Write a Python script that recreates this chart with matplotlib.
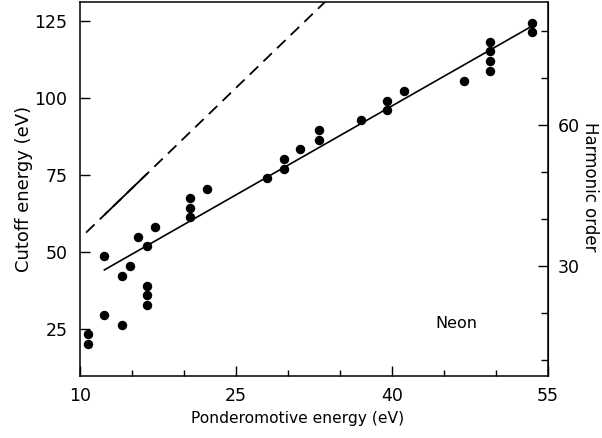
import matplotlib
matplotlib.use("Agg")
import matplotlib.pyplot as plt
from matplotlib.ticker import FixedLocator

plt.rcParams['font.family'] = ['DejaVu Sans']

# measured points (ponderomotive energy, cutoff energy)
up = [10.74, 10.74, 12.34, 12.34, 14.04, 14.04, 14.84, 15.6, 16.44, 16.44, 16.44, 16.44,
      17.24, 20.55, 20.55, 20.55, 22.2, 27.98, 29.6, 29.6, 31.15, 32.95, 32.95,
      37.05, 39.55, 39.55, 41.2, 46.95, 49.42, 49.42, 49.42, 49.42, 53.5, 53.5]
cutoff = [23.4, 20.3, 48.7, 29.6, 42.4, 26.5, 45.5, 55.0, 51.9, 39.1, 36.1, 33.0,
          58.1, 67.6, 64.5, 61.4, 70.6, 74.0, 77.1, 80.2, 83.3, 89.6, 86.5,
          92.9, 99.1, 96.0, 102.2, 105.5, 118.2, 115.1, 111.8, 108.6, 124.4, 121.2]

# linear fit to the data, and the cutoff law (dashed)
fit_x = [12.34, 53.5]
fit_y = [44.3, 123.3]
law_offset = 22.0
law_slope = 3.25
law_x = [10.58, 34.0]
law_solid_x = [12.4, 16.4]
photon = 1.52

fig = plt.figure(figsize=(6.02, 4.38), dpi=100)
ax = fig.add_axes([0.133, 0.142, 0.777, 0.853])

ax.plot(law_x, [law_offset + law_slope * x for x in law_x],
        color='black', lw=1.3, linestyle=(0, (6.5, 4)))
ax.plot(law_solid_x, [law_offset + law_slope * x for x in law_solid_x],
        color='black', lw=1.3)
ax.plot(fit_x, fit_y, color='black', lw=1.2)
ax.plot(up, cutoff, 'o', color='black', markersize=5.8)

ax.set_xlim(10, 55)
ax.set_ylim(10, 131)
ax.set_xticks([10, 25, 40, 55])
ax.set_xticks([15, 20, 30, 35, 45, 50], minor=True)
ax.set_yticks([25, 50, 75, 100, 125])
ax.tick_params(which='both', direction='in', labelsize=12.5, width=1)
ax.tick_params(axis='x', which='major', length=7, pad=8)
ax.tick_params(axis='x', which='minor', length=4)
ax.tick_params(axis='y', which='major', length=7, pad=9)
ax.tick_params(right=False, top=False)

ax.set_xlabel('Ponderomotive energy (eV)', fontsize=11.2)
ax.xaxis.set_label_coords(0.466, -0.095)
ax.set_ylabel('Cutoff energy (eV)', fontsize=13, labelpad=1)

# harmonic order axis on the right
sec = ax.secondary_yaxis('right', functions=(lambda e: e / photon, lambda q: q * photon))
sec.yaxis.set_major_locator(FixedLocator([30, 60]))
sec.yaxis.set_minor_locator(FixedLocator([10, 20, 40, 50, 70, 80]))
sec.tick_params(which='both', direction='in', labelsize=12.5, width=1)
sec.tick_params(which='major', length=7, pad=7)
sec.tick_params(which='minor', length=5)
fig.text(590 / 602, 1 - 187 / 438, 'Harmonic order', fontsize=12,
         rotation=-90, ha='center', va='center')

ax.text(46.2, 26.8, 'Neon', fontsize=11.5, ha='center', va='center')

for s in ax.spines.values():
    s.set_linewidth(1.1)

fig.savefig('out.png', dpi=100)
